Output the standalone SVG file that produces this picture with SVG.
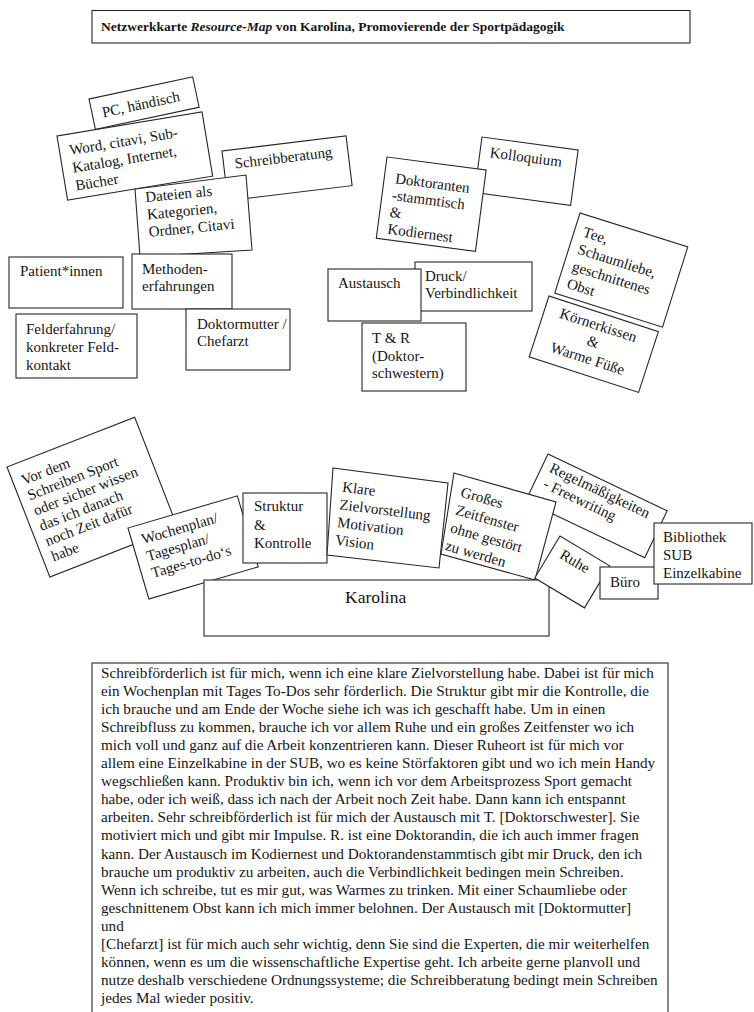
<svg xmlns="http://www.w3.org/2000/svg" width="754" height="1012" viewBox="0 0 754 1012">
<style>
.b{fill:#fff;stroke:#262626;stroke-width:1.1}
text{font-family:"Liberation Serif","Times New Roman",serif;fill:#151515}
.n{font-size:15px}
.m{font-size:15.2px}
.t{font-size:13.5px;font-weight:bold}
.k{font-size:17.5px}
</style>
<rect width="754" height="1012" fill="#fff"/>
<g id="title">
<rect class="b" x="92" y="10.5" width="598" height="32.5"/>
<text class="t" x="101" y="30.5">Netzwerkkarte <tspan font-style="italic">Resource-Map</tspan> von Karolina, Promovierende der Sportpädagogik</text>
</g>
<g id="connectors"></g>
<g id="n-pc" transform="translate(89,99) rotate(-12)">
<rect class="b" width="106" height="31"/>
<text class="n" x="10" y="21">PC, händisch</text>
</g>
<g id="n-word" transform="translate(57,136) rotate(-9.4)">
<rect class="b" width="147" height="65"/>
<text class="n"><tspan x="10" y="21">Word, citavi, Sub-</tspan><tspan x="10" y="39">Katalog, Internet,</tspan><tspan x="10" y="57">Bücher</tspan></text>
</g>
<g id="n-schreibberatung" transform="translate(222,151) rotate(-6.9)">
<rect class="b" width="125" height="50"/>
<text class="n" x="11" y="19">Schreibberatung</text>
</g>
<g id="n-dateien">
<polygon class="b" points="135,189 246,175 252,250 140,257"/>
<text class="n" transform="translate(135,189) rotate(-5.5)"><tspan x="9.5" y="14">Dateien als</tspan><tspan x="9.5" y="31.5">Kategorien,</tspan><tspan x="9.5" y="49">Ordner, Citavi</tspan></text>
</g>
<g id="n-patient">
<rect class="b" x="9" y="257" width="114" height="51"/>
<text class="n" x="20" y="276">Patient*innen</text>
</g>
<g id="n-methoden">
<rect class="b" x="132" y="254" width="100" height="55"/>
<text class="n"><tspan x="142" y="274">Methoden-</tspan><tspan x="142" y="291">erfahrungen</tspan></text>
</g>
<g id="n-felderfahrung">
<rect class="b" x="16" y="314" width="121" height="64"/>
<text class="n"><tspan x="26" y="334">Felderfahrung/</tspan><tspan x="26" y="352">konkreter Feld-</tspan><tspan x="26" y="370">kontakt</tspan></text>
</g>
<g id="n-doktormutter">
<rect class="b" x="186" y="309" width="104" height="61"/>
<text class="n"><tspan x="197" y="329">Doktormutter /</tspan><tspan x="197" y="346">Chefarzt</tspan></text>
</g>
<g id="n-kolloquium" transform="translate(482,137) rotate(7.7)">
<rect class="b" width="97" height="56"/>
<text class="n" x="10" y="19">Kolloquium</text>
</g>
<g id="n-doktoranten" transform="translate(387,157) rotate(7.5)">
<rect class="b" width="100" height="82"/>
<text class="n"><tspan x="11" y="25">Doktoranten</tspan><tspan x="10" y="42">-stammtisch</tspan><tspan x="10" y="59">&amp;</tspan><tspan x="10" y="76">Kodiernest</tspan></text>
</g>
<g id="n-druck">
<rect class="b" x="415" y="262" width="117" height="49"/>
<text class="n"><tspan x="425" y="281">Druck/</tspan><tspan x="425" y="298">Verbindlichkeit</tspan></text>
</g>
<g id="n-austausch">
<rect class="b" x="328" y="269" width="93" height="52"/>
<text class="n" x="338" y="288">Austausch</text>
</g>
<g id="n-tr">
<rect class="b" x="362" y="323" width="104" height="68"/>
<text class="n"><tspan x="372" y="343">T &amp; R</tspan><tspan x="372" y="361">(Doktor-</tspan><tspan x="372" y="378">schwestern)</tspan></text>
</g>
<g id="n-tee" transform="translate(580,213) rotate(17.5)">
<rect class="b" width="113" height="84"/>
<text class="n"><tspan x="9" y="21.5">Tee,</tspan><tspan x="9" y="39.5">Schaumliebe,</tspan><tspan x="9" y="57.5">geschnittenes</tspan><tspan x="9" y="75.5">Obst</tspan></text>
</g>
<g id="n-koernerkissen" transform="translate(549,296) rotate(18)">
<rect class="b" width="115" height="64"/>
<text class="n" text-anchor="middle"><tspan x="56" y="17.5">Körnerkissen</tspan><tspan x="56" y="35">&amp;</tspan><tspan x="56" y="52.5">Warme Füße</tspan></text>
</g>
<g id="n-vordem" transform="translate(7,467) rotate(-21.3)">
<rect class="b" width="137" height="118"/>
<text class="n"><tspan x="9" y="23">Vor dem</tspan><tspan x="9" y="39.4">Schreiben Sport</tspan><tspan x="9" y="55.8">oder sicher wissen</tspan><tspan x="9" y="72.2">das ich danach</tspan><tspan x="9" y="88.6">noch Zeit dafür</tspan><tspan x="9" y="105">habe</tspan></text>
</g>
<g id="n-wochenplan" transform="translate(128,528) rotate(-16.4)">
<rect class="b" width="114" height="74"/>
<text class="n"><tspan x="10" y="20">Wochenplan/</tspan><tspan x="10" y="37.5">Tagesplan/</tspan><tspan x="10" y="55">Tages-to-do‘s</tspan></text>
</g>
<g id="n-struktur">
<rect class="b" x="243" y="493" width="84" height="70"/>
<text class="n"><tspan x="254" y="511">Struktur</tspan><tspan x="254" y="530">&amp;</tspan><tspan x="254" y="548">Kontrolle</tspan></text>
</g>
<g id="n-klare">
<polygon class="b" points="333,468 448,483 439,568 327,555"/>
<text class="n" transform="translate(333,468) rotate(7)"><tspan x="11.5" y="22.5">Klare</tspan><tspan x="11" y="40.3">Zielvorstellung</tspan><tspan x="11" y="58.2">Motivation</tspan><tspan x="11" y="76">Vision</tspan></text>
</g>
<g id="n-regel" transform="translate(548,454) rotate(25.5)">
<rect class="b" width="132" height="52"/>
<text class="n"><tspan x="8" y="15.5">Regelmäßigkeiten</tspan><tspan x="9" y="32.5">- Freewriting</tspan></text>
</g>
<g id="n-grosses">
<polygon class="b" points="454,473 556,502 535,580 441,554"/>
<text class="n" transform="translate(454,473) rotate(16)"><tspan x="12" y="21">Großes</tspan><tspan x="12" y="39.5">Zeitfenster</tspan><tspan x="12" y="58">ohne gestört</tspan><tspan x="12" y="76.5">zu werden</tspan></text>
</g>
<g id="n-karolina">
<rect class="b" x="204" y="580" width="345" height="56"/>
<text class="k" x="345" y="603">Karolina</text>
</g>
<g id="n-ruhe" transform="translate(560,536) rotate(31)">
<rect class="b" width="58" height="49"/>
<text class="n" x="10" y="19">Ruhe</text>
</g>
<g id="n-buero">
<rect class="b" x="600" y="567" width="58" height="32"/>
<text class="n" x="610" y="587">Büro</text>
</g>
<g id="n-bibliothek">
<rect class="b" x="654" y="523" width="98" height="61"/>
<text class="n"><tspan x="663" y="542">Bibliothek</tspan><tspan x="663" y="560">SUB</tspan><tspan x="663" y="578">Einzelkabine</tspan></text>
</g>
<g id="textblock">
<rect class="b" x="92" y="663" width="576" height="360"/>
<text class="m">
<tspan x="101" y="678">Schreibförderlich ist für mich, wenn ich eine klare Zielvorstellung habe. Dabei ist für mich</tspan>
<tspan x="101" y="696.05">ein Wochenplan mit Tages To-Dos sehr förderlich. Die Struktur gibt mir die Kontrolle, die</tspan>
<tspan x="101" y="714.1">ich brauche und am Ende der Woche siehe ich was ich geschafft habe. Um in einen</tspan>
<tspan x="101" y="732.15">Schreibfluss zu kommen, brauche ich vor allem Ruhe und ein großes Zeitfenster wo ich</tspan>
<tspan x="101" y="750.2">mich voll und ganz auf die Arbeit konzentrieren kann. Dieser Ruheort ist für mich vor</tspan>
<tspan x="101" y="768.25">allem eine Einzelkabine in der SUB, wo es keine Störfaktoren gibt und wo ich mein Handy</tspan>
<tspan x="101" y="786.3">wegschließen kann. Produktiv bin ich, wenn ich vor dem Arbeitsprozess Sport gemacht</tspan>
<tspan x="101" y="804.35">habe, oder ich weiß, dass ich nach der Arbeit noch Zeit habe. Dann kann ich entspannt</tspan>
<tspan x="101" y="822.4">arbeiten. Sehr schreibförderlich ist für mich der Austausch mit T. [Doktorschwester]. Sie</tspan>
<tspan x="101" y="840.45">motiviert mich und gibt mir Impulse. R. ist eine Doktorandin, die ich auch immer fragen</tspan>
<tspan x="101" y="858.5">kann. Der Austausch im Kodiernest und Doktorandenstammtisch gibt mir Druck, den ich</tspan>
<tspan x="101" y="876.55">brauche um produktiv zu arbeiten, auch die Verbindlichkeit bedingen mein Schreiben.</tspan>
<tspan x="101" y="894.6">Wenn ich schreibe, tut es mir gut, was Warmes zu trinken. Mit einer Schaumliebe oder</tspan>
<tspan x="101" y="912.65">geschnittenem Obst kann ich mich immer belohnen. Der Austausch mit [Doktormutter]</tspan>
<tspan x="101" y="930.7">und</tspan>
<tspan x="101" y="948.75">[Chefarzt] ist für mich auch sehr wichtig, denn Sie sind die Experten, die mir weiterhelfen</tspan>
<tspan x="101" y="966.8">können, wenn es um die wissenschaftliche Expertise geht. Ich arbeite gerne planvoll und</tspan>
<tspan x="101" y="984.85">nutze deshalb verschiedene Ordnungssysteme; die Schreibberatung bedingt mein Schreiben</tspan>
<tspan x="101" y="1002.9">jedes Mal wieder positiv.</tspan>
</text>
</g>
</svg>
